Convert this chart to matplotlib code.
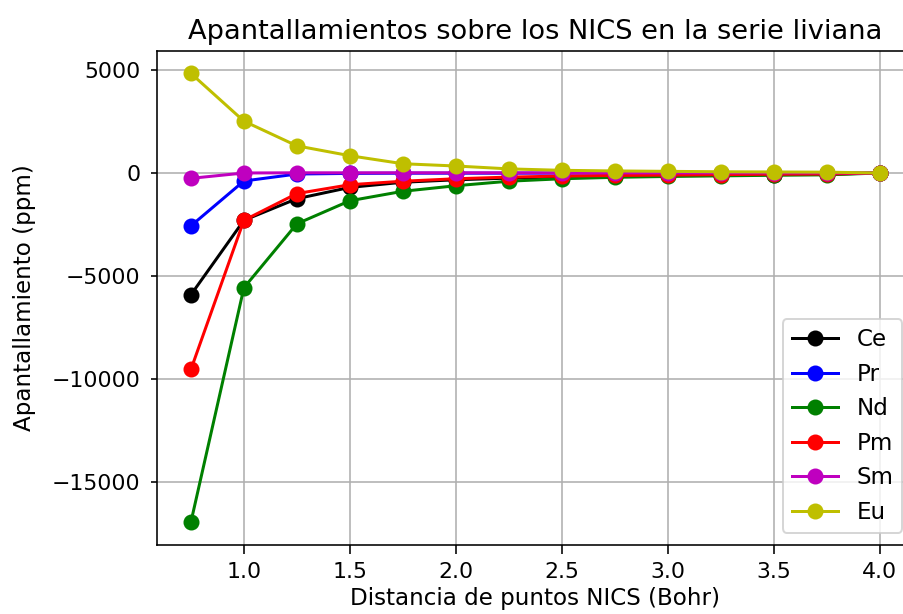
import matplotlib
matplotlib.use("Agg")
import matplotlib.pyplot as plt

distancia = [0.75, 1.0, 1.25, 1.5, 1.75, 2.0, 2.25, 2.5, 2.75, 3.0, 3.25, 3.5, 3.75, 4.0]

ce = [-5920, -2300, -1250, -700, -450, -330, -250, -190, -150, -120, -100, -80, -60, 0]
pr = [-2570, -390, -50, -20, -10, -10, -10, -5, -5, -5, -5, -5, -5, 0]
nd = [-16970, -5580, -2470, -1350, -890, -620, -400, -280, -210, -170, -140, -110, -90, 0]
pm = [-9550, -2300, -1000, -570, -400, -280, -200, -150, -120, -100, -80, -60, -50, 0]
sm = [-260, 0, 10, 10, 10, 10, 10, 5, 5, 5, 5, 5, 5, 0]
eu = [4840, 2520, 1320, 840, 450, 340, 200, 130, 100, 80, 60, 50, 40, 0]

series = [("Ce", ce, "k"), ("Pr", pr, "b"), ("Nd", nd, "g"),
          ("Pm", pm, "r"), ("Sm", sm, "m"), ("Eu", eu, "y")]

fig = plt.figure(figsize=(903 / 144, 614 / 144), dpi=144)
ax = fig.add_axes([156.5 / 903, 69.5 / 614, (914 - 156.5) / 903, (563 - 69.5) / 614])

for name, vals, col in series:
    ax.plot(distancia, vals, marker="o", color=col, label=name, markersize=7)

ax.set_title("Apantallamientos sobre los NICS en la serie liviana", fontsize=13.6)
ax.set_xlabel("Distancia de puntos NICS (Bohr)", fontsize=11.5, labelpad=2)
ax.set_ylabel("Apantallamiento (ppm)", fontsize=11.5, labelpad=8)
ax.tick_params(axis="x", labelsize=11, length=4.5, pad=4.5)
ax.tick_params(axis="y", labelsize=11, length=3, pad=5)
ax.grid(True)
ax.legend(loc="lower right", fontsize=11.5)

fig.savefig("out.png", dpi=144)
